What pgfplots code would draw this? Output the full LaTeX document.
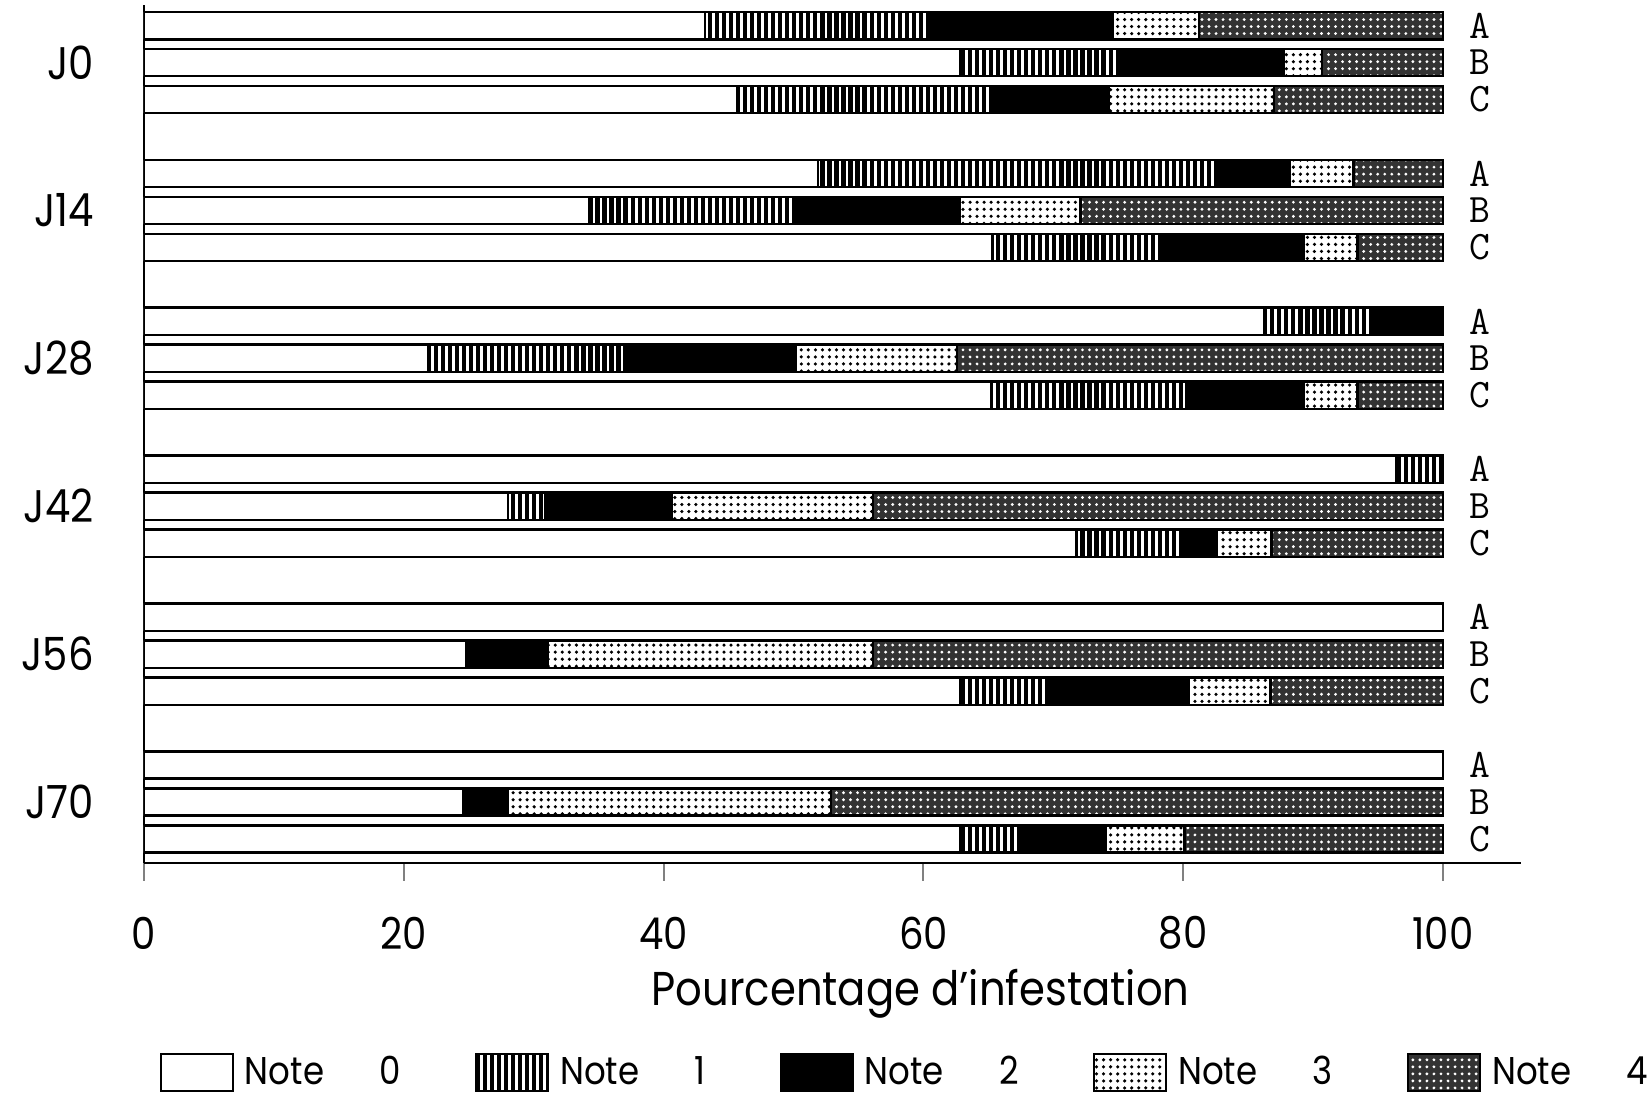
\documentclass[border=0pt]{standalone}
\usepackage{pgfplots}
\pgfplotsset{compat=1.18}
\usepackage{pgfplotstable}
\usetikzlibrary{patterns.meta}
\usepackage{fontspec}
\setmainfont{Poppins}[FakeStretch=0.88]
\tikzset{abc/.style={font=\ttfamily\fontsize{11.5}{12}\selectfont}}

% y: position of the bar (J0 A at the top)
\pgfplotstableread{
y  n0    n1    n2    n3    n4
22 43.2  17.1  14.3  6.6   18.8
21 62.8  12.4  12.5  3.0   9.3
20 45.7  19.6  9.0   12.7  13.0
18 51.9  30.9  5.4   4.9   6.9
17 34.3  15.7  12.8  9.3   27.9
16 65.3  13.1  10.9  4.1   6.6
14 86.2  8.5   5.3   0     0
13 21.9  15.4  12.9  12.4  37.4
12 65.2  15.0  9.1   4.1   6.6
10 96.4  3.6   0     0     0
9  28.0  2.9   9.7   15.5  43.9
8  71.8  8.3   2.5   4.2   13.2
6  100   0     0     0     0
5  24.8  0     6.3   25.0  43.9
4  62.8  6.7   10.9  6.3   13.3
2  100   0     0     0     0
1  24.6  0     3.4   24.9  47.1
0  62.8  4.5   6.7   6.1   19.9
}\notes

\begin{document}
\begin{tikzpicture}
\begin{axis}[
  at={(1.44cm,2.32cm)}, anchor=south west,
  scale only axis, width=13.77cm, height=8.577cm,
  xbar stacked, bar width=0.74,
  xmin=0, xmax=106, ymin=-0.65, ymax=22.55,
  axis x line*=bottom, axis y line*=left,
  axis line style={line width=0.7pt},
  xtick={0,20,...,100},
  tick align=outside, major tick length=0.18cm,
  xtick style={line width=0.6pt},
  /pgf/number format/assume math mode=true,
  xticklabel style={anchor=center, yshift=-0.52cm, font=\fontsize{12.5}{14}\selectfont},
  ytick={21,17,13,9,5,1},
  yticklabels={J0,J14,J28,J42,J56,J70},
  ytick style={draw=none},
  yticklabel style={anchor=east, xshift=-0.2cm, font=\fontsize{13}{15}\selectfont},
  xlabel={Pourcentage d'infestation},
  xlabel style={at={(axis description cs:0.564,0)}, anchor=center, yshift=-1.31cm, font=\fontsize{13.5}{15}\selectfont},
  every axis plot/.append style={draw=black, line width=0.7pt,
    legend image code/.code={\draw[##1,line width=0.6pt] (0cm,-0.185cm) rectangle (0.72cm,0.185cm);}},
  legend columns=5,
  legend style={draw=none, fill=none, inner sep=0pt,
    at={(axis description cs:0.011,-0.2448)}, anchor=west,
    font=\fontsize{11}{13}\selectfont,
    /tikz/every odd column/.append style={column sep=0.04cm},
    /tikz/every even column/.append style={column sep=0.675cm}},
]
\addplot[fill=white] table[x=n0,y=y]{\notes};
\addplot[fill=white, pattern={Lines[angle=90,distance=2pt,line width=1.2pt]}, pattern color=black] table[x=n1,y=y]{\notes};
\addplot[fill=black] table[x=n2,y=y]{\notes};
\addplot[fill=white, postaction={pattern={Dots[distance=2pt,radius=0.5pt]}, pattern color=black}] table[x=n3,y=y]{\notes};
\addplot[fill=black!80, postaction={pattern={Dots[distance=2pt,radius=0.45pt]}, pattern color=white}] table[x=n4,y=y]{\notes};
\legend{Note\hspace{0.55cm}0, Note\hspace{0.55cm}1, Note\hspace{0.55cm}2, Note\hspace{0.55cm}3, Note\hspace{0.55cm}4}

\node[abc] at (axis cs:102.8,22) {A};
\node[abc] at (axis cs:102.8,21) {B};
\node[abc] at (axis cs:102.8,20) {C};
\node[abc] at (axis cs:102.8,18) {A};
\node[abc] at (axis cs:102.8,17) {B};
\node[abc] at (axis cs:102.8,16) {C};
\node[abc] at (axis cs:102.8,14) {A};
\node[abc] at (axis cs:102.8,13) {B};
\node[abc] at (axis cs:102.8,12) {C};
\node[abc] at (axis cs:102.8,10) {A};
\node[abc] at (axis cs:102.8,9) {B};
\node[abc] at (axis cs:102.8,8) {C};
\node[abc] at (axis cs:102.8,6) {A};
\node[abc] at (axis cs:102.8,5) {B};
\node[abc] at (axis cs:102.8,4) {C};
\node[abc] at (axis cs:102.8,2) {A};
\node[abc] at (axis cs:102.8,1) {B};
\node[abc] at (axis cs:102.8,0) {C};
\end{axis}
\pgfresetboundingbox
\useasboundingbox (0,0) rectangle (16.5cm,10.95cm);
\end{tikzpicture}
\end{document}
